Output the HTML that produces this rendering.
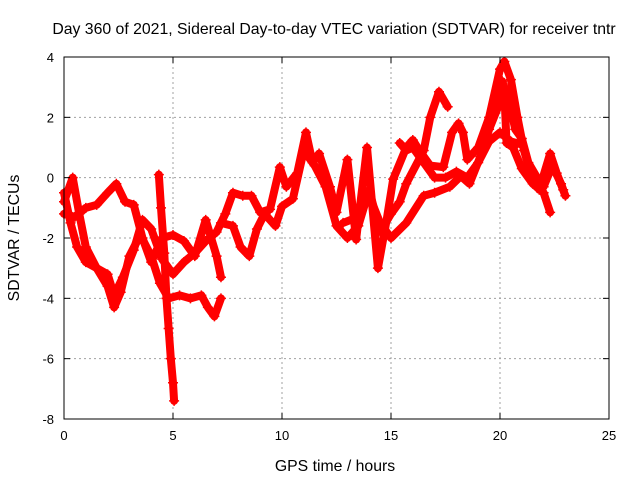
<!DOCTYPE html>
<html><head><meta charset="utf-8"><style>
body{margin:0;background:#fff;}
svg{display:block;font-family:"Liberation Sans",sans-serif;}
</style></head><body>
<svg id="chart" width="640" height="480" viewBox="0 0 640 480">
<rect width="640" height="480" fill="#fff"/>
<g id="grid"></g>
<g id="series"></g>
<g id="axes"></g>
<text x="334" y="34" text-anchor="middle" font-size="15.8">Day 360 of 2021, Sidereal Day-to-day VTEC variation (SDTVAR) for receiver tntr</text>
<text x="335" y="471" text-anchor="middle" font-size="15.8">GPS time / hours</text>
<text transform="translate(19,238) rotate(-90)" text-anchor="middle" font-size="15.8">SDTVAR / TECUs</text>
</svg>
<script>
const xTicks=[0,5,10,15,20,25];
const yTicks=[4,2,0,-2,-4,-6,-8];
const arc1=[[0,-0.8],[0.4,0.0],[0.7,-1.2],[1,-2.3],[1.5,-3.0],[2,-3.6],[2.3,-4.3],[2.6,-3.8],[3,-2.6],[3.5,-1.9],[4,-2.6],[4.4,-3.5],[4.8,-4.0],[5.3,-3.9],[5.8,-4.0],[6.3,-3.9],[6.6,-4.3],[6.9,-4.6],[7.2,-4.0]];
const arc2=[[0,-1.2],[0.5,-1.3],[1,-1.0],[1.5,-0.9],[2,-0.5],[2.4,-0.2],[2.8,-0.8],[3.2,-0.9],[3.6,-2.0],[4,-2.8],[4.5,-2.0],[5,-1.9],[5.5,-2.1],[6,-2.6],[6.5,-1.4],[7,-2.6],[7.2,-3.3]];
const arc3=[[4.35,0.1],[4.45,-1.0],[4.6,-2.5],[4.7,-4.0],[4.8,-5.0],[4.9,-6.0],[5.0,-6.8],[5.05,-7.4]];
const arc4=[[0,-0.5],[0.3,-1.5],[0.6,-2.3],[1,-2.8],[1.5,-3.0],[2,-3.2],[2.3,-3.9],[2.7,-3.3],[3.2,-2.4],[3.6,-1.4],[4,-1.7],[4.5,-2.7],[5,-3.2],[5.5,-2.8],[6,-2.5],[6.5,-2.1],[7,-1.8],[7.4,-1.2],[7.75,-0.5],[8.2,-0.6],[8.6,-0.6],[9,-1.15],[9.45,-1.05],[9.9,0.35],[10.2,-0.3],[10.7,0.15],[11.1,1.5],[11.4,0.5],[11.7,0.8],[12.2,-0.3],[12.5,-1.15],[13,0.6],[13.4,-2.05],[13.9,1.0],[14.4,-3.0],[14.8,-1.4],[15.1,-0.05],[15.7,1.0],[16,1.25],[16.3,0.9],[16.8,0.4],[17.4,0.35],[17.8,1.5],[18.1,1.8],[18.3,1.5],[18.5,0.6],[19,1.0],[19.5,2],[20,3.6],[20.2,3.85],[20.5,3.25],[20.8,2],[21.1,0.9],[21.4,0.15],[21.8,-0.4],[22.3,0.8],[22.6,0.15],[23,-0.6]];
const arc5=[[7.2,-1.5],[7.75,-1.6],[8.1,-2.3],[8.5,-2.6],[8.85,-1.7],[9.2,-1.2],[9.7,-1.6],[10,-0.95],[10.5,-0.7],[11,0.9],[11.5,0.4],[12,-0.3],[12.5,-1.6],[13,-2.0],[13.5,-1.6],[14,-0.4],[14.5,-1.8],[15,-1.2],[15.4,-0.8],[15.7,-0.2],[16.5,0.9],[16.8,2.0],[17.2,2.85],[17.6,2.35]];
const arc6=[[12.8,-1.5],[13.5,-1.3],[14,-0.6],[14.5,-1.5],[15,-2.0],[15.7,-1.5],[16.5,-0.6],[17,-0.5],[17.7,-0.3],[18.2,0.05],[18.6,-0.2],[19.1,0.7],[19.5,1.6],[20,2.5],[20.2,2.8],[20.3,1.15],[20.6,1.0],[21,0.3],[21.5,-0.2],[22,-0.5],[22.3,-1.15]];
const arc7=[[15.4,1.15],[15.7,0.9],[16,1.0],[16.5,0.5],[17,0.0],[17.5,0.0],[18,0.2],[18.5,0.0],[19,0.5],[19.5,1.2],[20,1.5],[20.5,1.2],[21,1.1]];
const arc8=[[19.2,1.0],[19.7,2.4],[20.1,3.2],[20.4,2.6],[20.7,1.6],[21,1.3],[21.3,0.5],[21.7,0.0],[22,-0.3],[22.4,0.4],[22.8,-0.2],[22.9,-0.4]];
const arcs=[arc1,arc2,arc3,arc4,arc5,arc6,arc7,arc8];

const L=64,R=609,T=57,B=419;
const xs=t=>L+(t-0)/(25-0)*(R-L);
const ys=v=>B-(v+8)/12*(B-T);
const NS="http://www.w3.org/2000/svg";
function mk(tag,parent,attrs){const e=document.createElementNS(NS,tag);for(const k in attrs)e.setAttribute(k,attrs[k]);parent.appendChild(e);return e;}
const grid=document.getElementById('grid'),axes=document.getElementById('axes'),ser=document.getElementById('series');
xTicks.forEach(t=>{
  const x=xs(t);
  if(t>0&&t<25){const g=mk('line',grid,{x1:x,x2:x,y1:T,y2:B,stroke:'#a0a0a0','stroke-dasharray':'2,3'});
  
  }
  mk('line',axes,{x1:x,x2:x,y1:B,y2:B-6,stroke:'#000'});
  mk('line',axes,{x1:x,x2:x,y1:T,y2:T+6,stroke:'#000'});
  const lb=mk('text',axes,{x:x,y:B+21,'text-anchor':'middle','font-size':'13'});
  lb.textContent=t;
  
  
});
yTicks.forEach(v=>{
  const y=ys(v);
  if(v>-8&&v<4){const g=mk('line',grid,{x1:L,x2:R,y1:y,y2:y,stroke:'#a0a0a0','stroke-dasharray':'2,3'});
  
  }
  mk('line',axes,{x1:L,x2:L+6,y1:y,y2:y,stroke:'#000'});
  mk('line',axes,{x1:R,x2:R-6,y1:y,y2:y,stroke:'#000'});
  const lb=mk('text',axes,{x:L-10,y:y+5,'text-anchor':'end','font-size':'13'});
  lb.textContent=v;
  
  
});
const fr=mk('rect',axes,{x:L,y:T,width:R-L,height:B-T,fill:'none',stroke:'#000','stroke-width':'1'});


arcs.forEach((a,i)=>{
  const pl=mk('polyline',ser,{points:a.map(p=>xs(p[0])+','+ys(p[1])).join(' '),fill:'none',stroke:'#ff0000','stroke-width':'8','stroke-linejoin':'round','stroke-linecap':'round'});
  
  
  a.forEach(p=>{
    const x=xs(p[0]),y=ys(p[1]);
    const m=mk('path',ser,{d:`M${x-5},${y}H${x+5}M${x},${y-5}V${y+5}`,stroke:'#ff0000','stroke-width':'1.5'});
    
    
  });
});
</script>
</body></html>
